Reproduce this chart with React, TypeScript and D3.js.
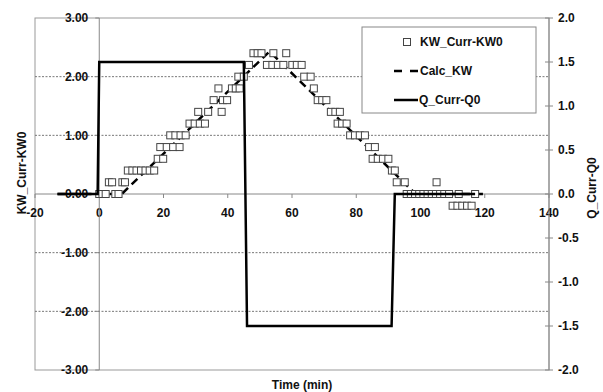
import * as d3 from 'd3';

// KW_Curr-KW0 (measured, left axis)
const kwTime = [
  0, 1, 2, 3, 4, 5, 6, 7.2, 8, 8.9, 10.3, 11.6, 13, 14.4, 15.7, 17.1, 18.2, 19, 19.9, 21,
  22.1, 23, 23.7, 25, 25.3, 26.9, 28.1, 29.7, 30.8, 31.3, 32.9, 33.9, 35.6, 37.1, 38.1, 38.5,
  39.8, 41.3, 42.5, 43.3, 43.7, 45, 46.6, 48, 49.3, 50.5, 52.2, 53.9, 54.2, 55.6, 57.3, 58.2,
  60.1, 61.5, 63, 63.8, 65.8, 66.8, 68, 69.4, 70.7, 72.1, 73.5, 74.2, 74.9, 75.6, 77, 78.1,
  79.6, 81.1, 82.7, 84, 85.1, 85.8, 86.7, 88.3, 90, 91.1, 92, 92.6, 95.1, 95.7, 97, 98.3,
  99.6, 100.9, 102.2, 103.5, 104.8, 105, 106.1, 107.4, 108.9, 110, 111.5, 111.9, 113, 114.5,
  115.9, 117,
];
const kwValue = [
  0, 0, 0, 0.2, 0.2, 0, 0, 0.2, 0.2, 0.4, 0.4, 0.4, 0.4, 0.4, 0.4, 0.4, 0.6, 0.8, 0.6, 0.8,
  1.0, 0.8, 1.0, 0.8, 1.0, 1.0, 1.2, 1.2, 1.4, 1.2, 1.2, 1.4, 1.6, 1.8, 1.4, 1.6,
  1.6, 1.8, 1.8, 2.0, 1.8, 2.0, 2.2, 2.4, 2.4, 2.4, 2.2, 2.2, 2.4, 2.2, 2.2, 2.4,
  2.2, 2.2, 2.2, 2.0, 2.0, 1.8, 1.6, 1.6, 1.6, 1.4, 1.4, 1.2, 1.4, 1.2, 1.2, 1.0,
  1.0, 1.0, 1.0, 0.8, 0.6, 0.8, 0.6, 0.6, 0.6, 0.4, 0.4, 0.2, 0.2, 0, 0, 0,
  0, 0, 0, 0, 0, 0.2, 0, 0, 0, -0.2, -0.2, 0, -0.2, -0.2,
  -0.2, 0,
];

// Calc_KW (left axis)
const calcTime = [-13, 7, 53, 98.5, 120];
const calcValue = [0, 0, 2.43, 0, 0];

// Q_Curr-Q0 (right axis)
const qTime = [-13, -0.5, 0, 45, 46, 91, 92, 117];
const qValue = [0, 0, 1.5, 1.5, -1.5, -1.5, 0, 0];

const xTicks = [-20, 0, 20, 40, 60, 80, 100, 120, 140];
const leftTicks = [3, 2, 1, 0, -1, -2, -3];
const rightTicks = [2, 1.5, 1, 0.5, 0, -0.5, -1, -1.5, -2];
const gridValues = [2, 1, -1, -2];

const width = 603;
const height = 392;
const font = '"Liberation Sans", Arial, sans-serif';

export default function App() {
  const margin = { top: 18, right: 54, bottom: 22, left: 35 };

  const x = d3.scaleLinear().domain([-20, 140]).range([margin.left, width - margin.right]);
  const yL = d3.scaleLinear().domain([-3, 3]).range([height - margin.bottom, margin.top]);
  const yR = d3.scaleLinear().domain([-2, 2]).range([height - margin.bottom, margin.top]);

  const calcLine = d3.line<number>()
    .x((_, i) => x(calcTime[i]))
    .y(d => yL(d));
  const qLine = d3.line<number>()
    .x((_, i) => x(qTime[i]))
    .y(d => yR(d));

  const x0 = x(0);
  const y0 = yL(0);
  const xR = x(140);
  const ms = 7;

  return (
    <svg width={width} height={height} style={{ position: 'absolute', left: 0, top: 0, background: '#fff' }}
      fontFamily={font} fontWeight="bold" fontSize={12}>
      {/* plot frame */}
      <rect x={margin.left} y={margin.top} width={xR - margin.left} height={yL(-3) - yL(3)}
        fill="none" stroke="#999" strokeWidth={1} />

      {/* gridlines */}
      {gridValues.map(v => (
        <line key={v} x1={margin.left} x2={xR} y1={yL(v)} y2={yL(v)}
          stroke="#777" strokeWidth={1} strokeDasharray="2,1.5" />
      ))}

      {/* x axis */}
      <line x1={margin.left} x2={xR} y1={y0} y2={y0} stroke="#888" />
      {xTicks.map(t => (
        <g key={t}>
          <line x1={x(t)} x2={x(t)} y1={y0} y2={y0 + 4} stroke="#888" />
          <text x={x(t)} y={y0 + 23} textAnchor="middle" fill="#111">{String(t)}</text>
        </g>
      ))}

      {/* left axis */}
      <line x1={x0} x2={x0} y1={yL(3)} y2={yL(-3)} stroke="#888" />
      {leftTicks.map(t => (
        <g key={t}>
          <line x1={x0 - 4} x2={x0} y1={yL(t)} y2={yL(t)} stroke="#888" />
          <text x={x0 - 11} y={yL(t)} dy="0.35em" textAnchor="end" fill="#111">{t.toFixed(2)}</text>
        </g>
      ))}

      {/* right axis */}
      <line x1={xR} x2={xR} y1={yR(2)} y2={yR(-2)} stroke="#888" />
      {rightTicks.map(t => (
        <g key={t}>
          <line x1={xR - 4} x2={xR + 4} y1={yR(t)} y2={yR(t)} stroke="#888" />
          <text x={xR + 9} y={yR(t)} dy="0.35em" textAnchor="start" fill="#111">{t.toFixed(1)}</text>
        </g>
      ))}

      {/* axis titles */}
      <text transform={`translate(22,173) rotate(-90)`} textAnchor="middle" dy="0.35em" fill="#111">KW_Curr-KW0</text>
      <text transform={`translate(592,188) rotate(-90)`} textAnchor="middle" dy="0.35em" fill="#111">Q_Curr-Q0</text>
      <text x={302} y={389} textAnchor="middle" fill="#111">Time (min)</text>

      {/* Calc_KW */}
      <path d={calcLine(calcValue) ?? ''} fill="none" stroke="#000" strokeWidth={2.5} strokeDasharray="8,5" />

      {/* KW_Curr-KW0 markers */}
      {kwValue.map((v, i) => (
        <rect key={i} x={x(kwTime[i]) - ms / 2} y={yL(v) - ms / 2} width={ms} height={ms}
          fill="#fff" stroke="#444" strokeWidth={1} />
      ))}

      {/* Q_Curr-Q0 */}
      <path d={qLine(qValue) ?? ''} fill="none" stroke="#000" strokeWidth={2.5} strokeLinejoin="miter" />

      {/* legend */}
      <rect x={362} y={27} width={174} height={86} fill="#fff" stroke="#888" />
      <rect x={407 - ms / 2} y={42 - ms / 2} width={ms} height={ms} fill="#fff" stroke="#444" />
      <text x={420} y={42} dy="0.35em" fill="#111">KW_Curr-KW0</text>
      <line x1={394} x2={418} y1={71} y2={71} stroke="#000" strokeWidth={2.5} strokeDasharray="8,8" />
      <text x={420} y={71} dy="0.35em" fill="#111">Calc_KW</text>
      <line x1={394} x2={418} y1={100} y2={100} stroke="#000" strokeWidth={2.5} />
      <text x={419} y={100} dy="0.35em" fill="#111">Q_Curr-Q0</text>
    </svg>
  );
}
